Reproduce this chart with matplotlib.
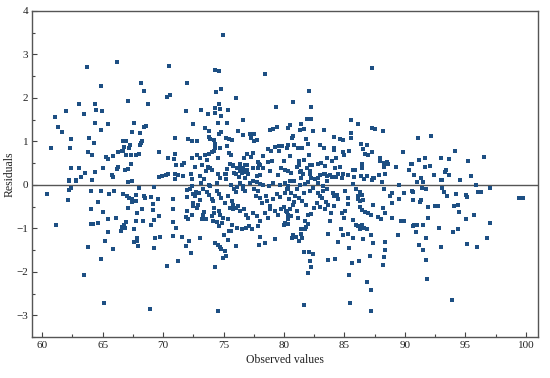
import numpy as np
import matplotlib
matplotlib.use('Agg')
import matplotlib.pyplot as plt
from matplotlib.ticker import MultipleLocator

# -------------------------------------------------------------------------------------
# Data
observed = [
    # upper left (60-70, positive)
    63.69, 66.17, 64.90, 68.18, 68.43, 67.13, 68.76, 63.06, 64.35, 64.44, 64.96, 61.93,
    63.45, 61.05, 64.41, 65.45, 67.60, 61.30, 68.45, 68.62, 61.63, 64.90, 67.44, 68.12,
    62.37, 63.88, 64.30, 68.24, 68.18, 68.10, 60.77, 62.31, 66.72, 66.92, 67.25, 67.19,
    69.67, 63.75, 64.10, 66.75, 66.72, 66.28, 66.64, 66.97, 67.36, 65.84, 65.29, 65.48,
    67.77, 68.02, 67.36, 62.42, 63.06, 65.04, 66.30, 66.20, 66.86, 67.08, 63.58, 64.35,
    63.22, 65.76, 65.87, 62.23, 62.83, 64.16, 69.70,
    # lower left (60-70, negative)
    62.23, 62.83, 67.08, 67.41, 60.39, 62.20, 62.40, 62.17, 64.05, 64.88, 65.92, 65.54,
    66.67, 67.05, 67.22, 67.41, 67.41, 67.80, 67.74, 68.04, 68.51, 68.43, 67.85, 67.08,
    69.00, 69.23, 69.17, 69.17, 69.61, 69.67, 64.05, 65.07, 64.63, 65.43, 66.14, 64.02,
    64.24, 64.63, 61.13, 65.48, 66.55, 66.61, 66.80, 66.94, 66.86, 67.58, 67.80, 68.37,
    68.29, 67.85, 67.85, 67.60, 67.96, 69.31, 69.75, 69.00, 65.21, 63.83, 65.84, 69.26,
    64.88, 63.47, 65.15, 68.95, 69.27,
    # upper middle-left (70-80, positive)
    74.96, 70.50, 74.32, 74.60, 78.43, 71.98, 70.36, 70.55, 74.35, 74.79, 76.01, 79.36,
    71.88, 73.12, 73.69, 74.30, 74.60, 74.71, 74.32, 75.40, 74.77, 72.50, 76.59, 74.52,
    75.26, 73.47, 73.83, 74.82, 74.65, 76.17, 70.97, 72.04, 72.37, 72.83, 73.80, 73.86,
    74.21, 74.27, 75.23, 75.45, 75.70, 76.59, 77.19, 77.50, 77.30, 77.55, 77.74, 78.81,
    79.12, 79.40, 80.33, 70.97, 70.91, 70.44, 72.40, 72.79, 71.76, 71.60, 71.10, 72.67,
    73.06, 73.20, 73.50, 73.64, 73.83, 74.02, 74.21, 74.27, 73.69, 73.91, 74.02, 74.55,
    74.71, 75.31, 75.45, 75.60, 75.76, 76.09, 76.34, 75.87, 75.18, 76.39, 76.69, 76.94,
    76.61, 76.75, 76.97, 76.92, 76.80, 77.02, 76.53, 77.25, 77.47, 77.91, 78.02, 77.83,
    77.47, 78.29, 78.70, 78.70, 78.95, 79.01, 79.23, 79.56, 79.81, 80.22, 80.30, 80.00,
    79.61, 78.84, 78.29, 79.48, 79.73, 80.11, 69.89, 70.22, 70.41, 70.99, 71.27, 70.99,
    71.63, 72.34, 73.06, 73.39, 73.55, 74.55, 74.71, 75.20, 76.26, 76.75, 77.77, 78.02,
    72.40, 73.80, 74.49, 75.12, 76.03, 76.36, 76.64, 76.92, 77.88, 75.54, 75.76, 75.26,
    # upper middle-right (80-90, positive)
    87.27, 82.04, 80.72, 82.26, 81.93, 82.26, 85.54, 86.14, 80.52, 81.38, 81.35, 81.63,
    82.42, 83.31, 87.25, 87.55, 88.18, 80.72, 80.69, 81.82, 84.10, 84.65, 84.85, 85.54,
    85.56, 80.80, 81.13, 81.46, 82.01, 82.98, 83.28, 84.13, 84.16, 86.34, 86.83, 87.30,
    84.88, 84.93, 85.35, 86.53, 86.69, 86.97, 80.50, 81.21, 81.65, 81.27, 81.05, 82.07,
    82.12, 81.87, 81.40, 82.15, 82.34, 82.84, 83.06, 83.39, 83.53, 83.97, 84.27, 84.21,
    84.65, 83.83, 83.39, 85.73, 85.87, 86.42, 86.47, 87.93, 87.90, 88.24, 88.49, 88.57,
    88.24, 88.35, 87.88, 87.36, 89.26, 89.86, 90.50, 90.33, 90.72, 80.33, 80.60, 81.32,
    81.55, 82.12, 82.23, 82.79, 83.00, 83.31, 83.53, 84.49, 84.85, 85.31, 85.81, 86.36,
    86.83,
    # right (90-100)
    91.07, 92.12, 94.16, 96.53, 91.13, 91.65, 92.95, 93.61, 95.21, 90.55, 91.65, 92.04,
    93.44, 93.33, 90.77, 91.30, 92.42, 93.64, 94.55, 95.45, 93.00, 90.97, 91.52, 91.44,
    91.72, 90.66, 93.03, 93.03, 93.25, 93.50, 94.21, 95.02, 95.10, 95.84, 96.06, 96.28,
    97.02, 99.45, 99.78, 90.64, 91.24, 91.32, 91.90, 92.48, 92.70, 94.08, 94.38, 94.49,
    95.73, 95.07, 97.02, 91.90, 90.64, 90.97, 91.49, 90.91, 92.84, 93.94, 94.38, 91.72,
    96.75, 91.19, 91.46, 92.95, 95.10, 95.95, 91.74, 91.79, 93.88,
    # lower middle-right (80-90, negative)
    81.68, 85.43, 87.19, 86.88, 87.21, 85.40, 81.96, 82.20, 82.15, 82.37, 82.09, 81.68,
    83.61, 84.19, 85.60, 86.20, 87.08, 88.15, 88.26, 88.35, 88.32, 87.33, 86.53, 85.73,
    85.35, 84.46, 83.66, 84.71, 84.90, 85.31, 86.14, 86.36, 86.47, 86.64, 86.86, 86.31,
    85.73, 85.93, 87.19, 87.80, 88.04, 88.37, 88.93, 89.67, 89.92, 89.39, 90.72, 88.15,
    88.95, 89.48, 89.90, 88.76, 88.29, 87.38, 86.97, 87.17, 86.73, 86.42, 86.28, 86.14,
    86.31, 86.56, 86.45, 86.12, 86.26, 85.70, 85.93, 85.07, 85.26, 85.31, 85.04, 84.93,
    84.77, 84.40, 84.49, 84.16, 84.02, 84.11, 83.91, 83.83, 83.45, 83.66, 83.39, 83.00,
    82.98, 83.17, 82.70, 82.45, 82.23, 81.96, 81.71, 82.01, 81.40, 81.71, 81.85, 81.38,
    81.52, 80.97, 80.77, 80.69, 81.24, 80.08, 80.31, 81.18, 81.05, 80.77, 80.91, 81.07,
    80.31, 80.50, 80.85, 81.32, 81.40, 81.74, 82.01, 82.56, 82.84, 83.25, 83.58, 83.94,
    84.27, 84.77, 87.30, 87.46, 88.07, 88.95, 89.53, 90.58, 86.59, 82.84, 83.25, 83.53,
    82.15, 82.37, 81.68, 80.58, 80.22, 80.41, 80.85, 80.50, 80.14, 81.24, 81.52, 81.82,
    80.58, 80.31,
    # lower middle-left (70-80, negative)
    74.52, 74.30, 70.36, 71.27, 72.31, 71.90, 72.17, 70.85, 71.05, 70.85, 71.55, 73.06,
    74.30, 74.57, 74.71, 74.82, 75.10, 75.21, 74.99, 75.40, 76.03, 75.07, 75.45, 75.68,
    75.40, 74.65, 74.88, 74.44, 74.16, 74.02, 74.24, 74.60, 74.71, 74.93, 74.24, 73.20,
    73.55, 73.33, 73.41, 71.90, 72.09, 72.40, 72.01, 72.50, 72.78, 72.87, 72.50, 73.06,
    70.85, 70.85, 72.01, 72.01, 72.23, 72.37, 72.50, 72.64, 72.73, 72.99, 73.12, 73.33,
    73.61, 73.88, 73.83, 74.02, 74.16, 74.44, 74.65, 74.77, 75.12, 75.40, 75.68, 75.81,
    76.03, 75.76, 75.54, 76.22, 76.36, 76.69, 76.86, 77.05, 77.13, 76.86, 76.50, 76.09,
    75.60, 76.64, 76.78, 76.59, 76.36, 76.14, 76.03, 75.87, 75.60, 77.19, 77.47, 77.74,
    78.02, 77.52, 77.88, 78.29, 77.69, 78.02, 78.51, 78.16, 78.57, 78.84, 79.12, 79.40,
    79.67, 80.08, 80.36, 80.08, 79.67, 79.12, 78.79, 77.47, 77.80, 78.02, 78.43, 78.70,
    78.84, 79.26, 79.53, 79.73, 80.00, 80.22, 80.36, 77.88, 77.33, 78.02, 77.96, 78.43,
    79.28, 80.00, 80.36,
]

residuals = [
    # upper left (60-70, positive)
    2.71, 2.82, 2.28, 2.34, 2.17, 1.92, 1.85, 1.85, 1.85, 1.72, 1.69, 1.69,
    1.63, 1.57, 1.42, 1.39, 1.43, 1.34, 1.33, 1.35, 1.22, 1.26, 1.22, 1.19,
    1.05, 1.08, 0.96, 1.02, 0.96, 0.92, 0.86, 0.84, 1.01, 1.01, 0.92, 0.86,
    0.75, 0.75, 0.69, 0.88, 0.78, 0.75, 0.78, 0.69, 0.69, 0.67, 0.64, 0.59,
    0.69, 0.72, 0.49, 0.39, 0.39, 0.39, 0.41, 0.36, 0.35, 0.37, 0.27, 0.29,
    0.19, 0.23, 0.19, 0.12, 0.12, 0.12, 0.18,
    # lower left (60-70, negative)
    0.09, 0.09, 0.07, 0.08, -0.21, -0.11, -0.06, -0.35, -0.15, -0.13, -0.15, -0.21,
    -0.21, -0.25, -0.31, -0.33, -0.39, -0.22, -0.36, -0.06, -0.31, -0.25, -0.64, -0.52,
    -0.27, -0.05, -0.44, -0.58, -0.32, -0.72, -0.55, -0.62, -0.39, -0.79, -0.76, -0.89,
    -0.89, -0.88, -0.91, -1.09, -1.07, -0.96, -0.92, -0.85, -0.98, -1.01, -0.84, -0.83,
    -0.56, -1.23, -1.28, -1.32, -1.41, -1.22, -1.19, -0.93, -1.28, -1.43, -1.47, -1.46,
    -1.70, -2.06, -2.72, -2.86, -0.81,
    # upper middle-left (70-80, positive)
    3.45, 2.74, 2.65, 2.62, 2.55, 2.34, 2.02, 2.07, 2.14, 2.20, 2.00, 1.79,
    1.69, 1.72, 1.64, 1.76, 1.85, 1.74, 1.66, 1.72, 1.58, 1.40, 1.50, 1.42,
    1.43, 1.32, 1.23, 1.21, 1.16, 1.24, 1.08, 1.06, 1.02, 1.02, 1.10, 1.06,
    1.04, 0.93, 1.09, 1.06, 1.04, 1.15, 1.18, 1.17, 1.09, 1.02, 1.03, 1.27,
    1.29, 1.34, 1.32, 0.70, 0.60, 0.62, 0.62, 0.69, 0.50, 0.45, 0.45, 0.42,
    0.61, 0.45, 0.69, 0.58, 0.72, 0.75, 0.77, 0.86, 0.42, 0.39, 0.35, 0.61,
    0.85, 0.89, 0.74, 0.68, 0.45, 0.39, 0.42, 0.27, 0.25, 0.49, 0.62, 0.71,
    0.40, 0.45, 0.45, 0.35, 0.29, 0.26, 0.28, 0.65, 0.74, 0.48, 0.45, 0.40,
    0.40, 0.66, 0.82, 0.52, 0.77, 0.54, 0.88, 0.89, 0.89, 0.86, 0.92, 0.56,
    0.79, 0.32, 0.40, 0.22, 0.40, 0.35, 0.21, 0.23, 0.26, 0.26, 0.24, 0.14,
    0.20, 0.25, 0.21, 0.14, 0.32, 0.25, 0.15, 0.14, 0.18, 0.17, 0.21, 0.23,
    0.13, 0.00, 0.05, 0.25, 0.25, 0.32, 0.36, 0.32, 0.52, 0.49, 0.44, 0.36,
    # upper middle-right (80-90, positive)
    2.70, 2.17, 1.90, 1.79, 1.51, 1.51, 1.50, 1.39, 1.38, 1.39, 1.27, 1.29,
    1.24, 1.26, 1.32, 1.29, 1.24, 1.12, 1.09, 1.06, 1.10, 1.06, 1.04, 1.19,
    1.09, 0.92, 0.85, 0.85, 0.95, 0.91, 0.85, 0.86, 0.81, 0.95, 0.92, 0.76,
    0.76, 0.69, 0.77, 0.82, 0.72, 0.69, 0.67, 0.54, 0.58, 0.45, 0.41, 0.69,
    0.47, 0.39, 0.33, 0.33, 0.45, 0.48, 0.51, 0.44, 0.63, 0.55, 0.63, 0.38,
    0.42, 0.23, 0.25, 0.34, 0.34, 0.39, 0.48, 0.63, 0.54, 0.51, 0.52, 0.48,
    0.42, 0.25, 0.23, 0.17, 0.42, 0.75, 0.48, 0.34, 0.23, 0.31, 0.27, 0.30,
    0.25, 0.26, 0.17, 0.17, 0.23, 0.26, 0.20, 0.25, 0.25, 0.23, 0.19, 0.21,
    0.20,
    # right (90-100)
    1.09, 1.13, 0.79, 0.65, 0.57, 0.61, 0.62, 0.59, 0.55, 0.49, 0.42, 0.44,
    0.35, 0.29, 0.22, 0.16, 0.24, 0.22, 0.12, 0.21, 0.12, 0.07, 0.07, -0.06,
    -0.09, -0.16, 0.11, -0.06, -0.16, -0.25, -0.20, -0.23, -0.27, -0.01, -0.16, -0.16,
    -0.08, -0.30, -0.30, -0.35, -0.39, -0.35, -0.51, -0.48, -0.48, -0.48, -0.45, -0.62,
    -0.69, -0.79, -0.88, -0.75, -0.94, -0.93, -0.92, -1.09, -0.99, -1.08, -1.01, -1.22,
    -1.22, -1.38, -1.50, -1.43, -1.36, -1.43, -1.72, -2.16, -2.65,
    # lower middle-right (80-90, negative)
    -2.77, -2.72, -2.89, -2.24, -2.41, -2.08, -2.02, -1.88, -1.75, -1.59, -1.54, -1.54,
    -1.72, -1.71, -1.79, -1.76, -1.64, -1.85, -1.66, -1.50, -1.32, -1.34, -1.24, -1.23,
    -1.45, -1.32, -1.12, -1.02, -1.14, -1.12, -0.95, -0.99, -0.93, -0.98, -1.01, -1.02,
    -0.81, -0.93, -1.14, -0.73, -0.79, -0.65, -0.75, -0.84, -0.82, -1.15, -0.92, -0.52,
    -0.42, -0.33, -0.18, -0.25, -0.10, -0.45, -0.64, -0.69, -0.62, -0.58, -0.50, -0.33,
    -0.37, -0.35, -0.24, -0.25, -0.16, 0.02, -0.10, -0.14, -0.31, -0.43, -0.60, -0.77,
    -0.65, -0.24, -0.33, -0.25, -0.18, -0.48, -0.64, -0.82, -0.39, -0.46, -0.56, -0.50,
    -0.25, -0.30, -0.42, -0.52, -0.66, -0.70, -0.82, -0.89, -1.02, -1.01, -0.97, -1.13,
    -1.22, -1.19, -1.15, -1.22, -1.30, -0.88, -0.89, -0.76, -0.60, -0.45, -0.25, -0.10,
    -0.02, 0.09, 0.09, 0.01, 0.15, 0.02, 0.07, 0.13, 0.05, -0.02, 0.09, 0.19,
    0.18, 0.17, 0.12, 0.15, 0.07, -0.18, 0.00, -0.13, 0.13, -0.18, -0.15, -0.10,
    -0.14, -0.06, -0.18, -0.19, -0.10, -0.33, -0.39, -0.55, -0.60, -0.30, -0.37, -0.45,
    -0.72, -0.68,
    # lower middle-left (70-80, negative)
    -2.89, -1.89, -1.87, -1.74, -1.56, -1.41, -1.28, -1.18, -1.00, -0.85, -1.19, -1.22,
    -1.33, -1.37, -1.43, -1.48, -1.52, -1.64, -1.68, -1.27, -1.41, -1.14, -1.06, -0.91,
    -0.78, -0.95, -0.87, -0.85, -0.83, -0.72, -0.64, -0.60, -0.70, -0.76, -0.52, -0.79,
    -0.78, -0.70, -0.62, -0.73, -0.78, -0.68, -0.59, -0.48, -0.54, -0.45, -0.41, -0.35,
    -0.55, -0.33, -0.12, -0.27, -0.09, -0.02, -0.21, -0.25, -0.16, -0.19, 0.05, -0.10,
    -0.16, -0.02, -0.24, -0.33, -0.37, -0.14, -0.21, -0.29, -0.41, -0.25, -0.37, -0.45,
    -0.52, -0.56, -0.52, -0.48, -0.60, -0.55, -0.68, -0.75, -0.95, -0.99, -1.02, -0.99,
    -1.06, -0.10, -0.14, -0.02, 0.04, -0.04, -0.16, -0.09, -0.01, 0.05, 0.09, 0.07,
    0.02, -0.10, -0.14, -0.01, -0.25, -0.29, -0.25, -0.41, -0.37, -0.48, -0.33, -0.21,
    -0.27, -0.18, -0.10, 0.04, -0.01, 0.05, -0.02, -0.64, -0.72, -0.83, -0.65, -0.75,
    -0.56, -0.60, -0.70, -0.56, -0.50, -0.62, -0.72, -0.95, -1.02, -1.19, -1.37, -1.33,
    -1.25, -0.91, -0.79,
]

x_ticks = [60, 65, 70, 75, 80, 85, 90, 95, 100]
y_ticks = [-3, -2, -1, 0, 1, 2, 3, 4]
x_label = 'Observed values'
y_label = 'Residuals'

# -------------------------------------------------------------------------------------
# Figure
plt.rcParams['font.family'] = ['Liberation Serif', 'DejaVu Serif']
plt.rcParams['axes.unicode_minus'] = True

oFig = plt.figure(figsize=(5.5, 3.78), dpi=100)
oAx = oFig.add_axes([0.058, 0.108, 0.920, 0.863])

n = min(len(observed), len(residuals))
oAx.scatter(observed[:n], residuals[:n], marker='s', s=9, color='#1d4f83',
            linewidths=0, zorder=3)
oAx.axhline(0, color='#555555', lw=1.0, zorder=2)

oAx.set_xlim(59.15, 101.0)
oAx.set_ylim(-3.5, 4.0)
oAx.set_xticks(x_ticks)
oAx.set_yticks(y_ticks)
oAx.xaxis.set_minor_locator(MultipleLocator(2.5))
oAx.yaxis.set_minor_locator(MultipleLocator(0.5))
oAx.tick_params(which='both', direction='in', colors='#444444', labelcolor='#222222',
                labelsize=8, width=0.8)
oAx.tick_params(which='major', length=3.5, pad=2.5)
oAx.tick_params(which='minor', length=2)
for sSide in oAx.spines:
    oAx.spines[sSide].set_color('#555555')
    oAx.spines[sSide].set_linewidth(1.0)

oAx.set_xlabel(x_label, fontsize=8.5, color='#222222', labelpad=3)
oAx.set_ylabel(y_label, fontsize=8.5, color='#222222', labelpad=1)

oFig.savefig('out.png', dpi=100)
